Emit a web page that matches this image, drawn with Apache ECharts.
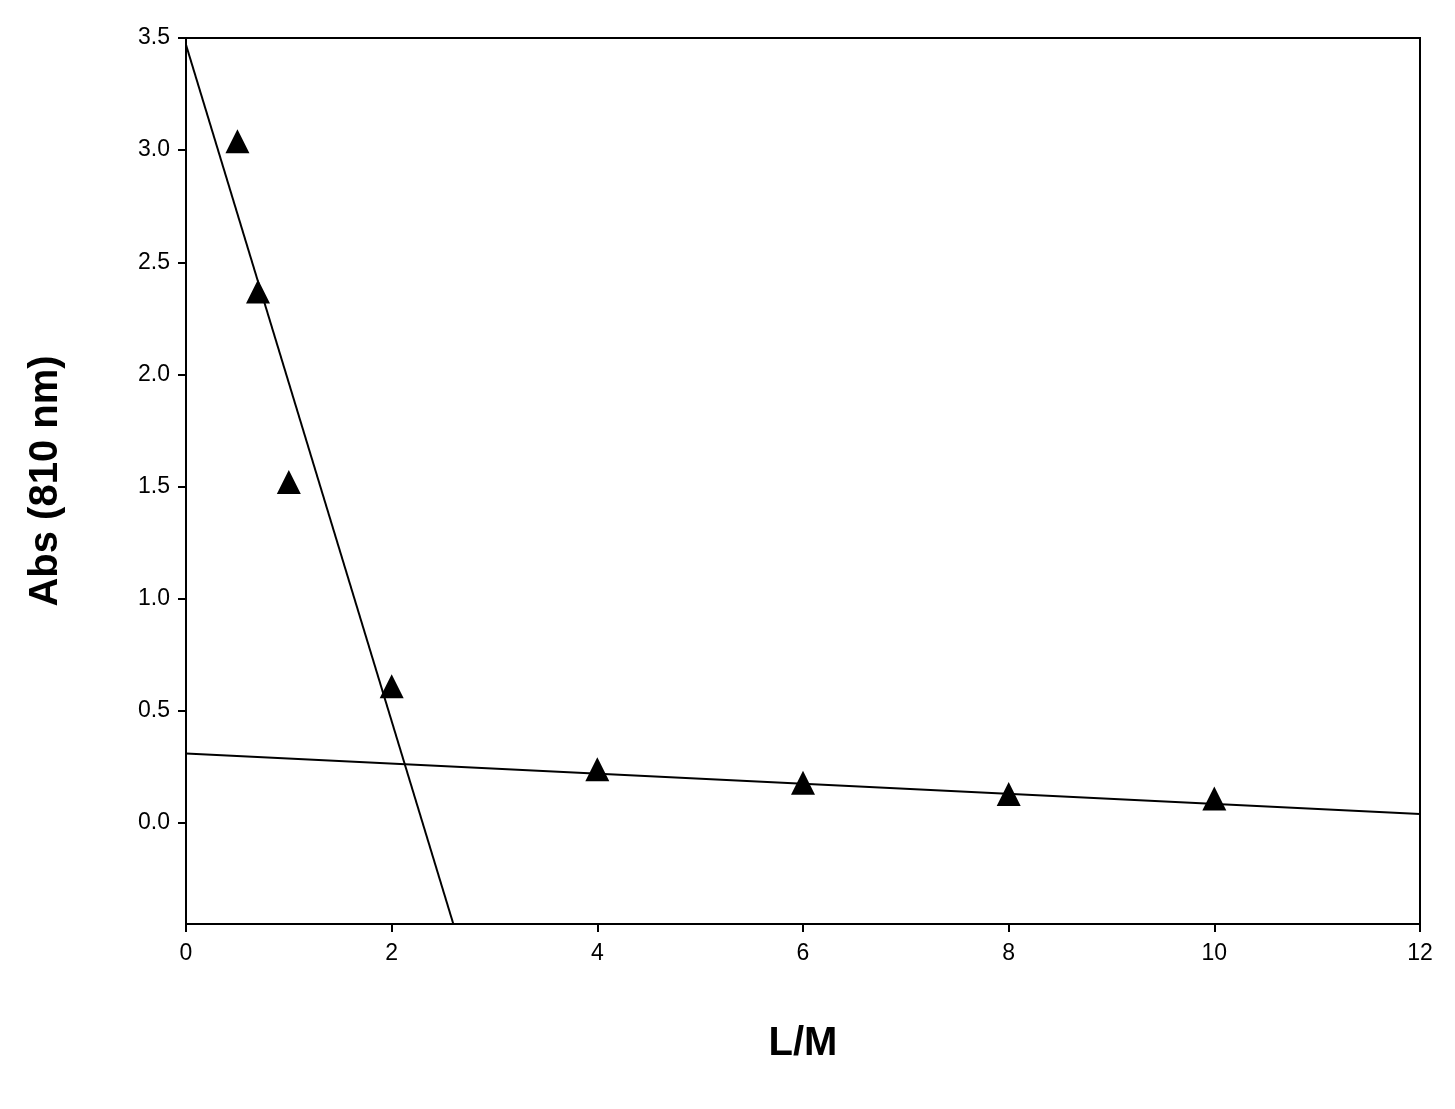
<!DOCTYPE html>
<html>
<head>
<meta charset="UTF-8">
<script src="https://cdn.jsdelivr.net/npm/echarts@6/dist/echarts.min.js"></script>
<style>
  html, body { margin: 0; background: #fff; }
  #chart { width: 1455px; height: 1109px; }
</style>
</head>
<body>
<div id="chart"></div>
<script>
// measured points
const ratioLM = [0.5, 0.7, 1.0, 2.0, 4, 6, 8, 10];
const absValues = [3.04, 2.37, 1.52, 0.61, 0.24, 0.18, 0.13, 0.11];
// fit lines (end points)
const steepLine = [[0, 3.47], [2.6, -0.45]];
const flatLine = [[0, 0.31], [12, 0.04]];
const yTicks = [0, 0.5, 1, 1.5, 2, 2.5, 3, 3.5];

const chart = echarts.init(document.getElementById('chart'));
const font = 'Liberation Sans, Arial, sans-serif';
chart.setOption({
  animation: false,
  grid: { left: 186, right: 35, top: 38, bottom: 185, show: true, borderColor: '#000', borderWidth: 2 },
  xAxis: {
    type: 'value', min: 0, max: 12, interval: 2,
    name: 'L/M', nameLocation: 'middle', nameGap: 100,
    nameTextStyle: { fontFamily: font, fontSize: 40, fontWeight: 'bold', color: '#000' },
    axisLine: { onZero: false, lineStyle: { color: '#000', width: 2 } },
    axisTick: { length: 8, lineStyle: { color: '#000', width: 2 } },
    axisLabel: { fontFamily: font, fontSize: 23, color: '#000', margin: 18 },
    splitLine: { show: false }
  },
  yAxis: {
    type: 'value', min: -0.45, max: 3.5,
    name: 'Abs (810 nm)', nameLocation: 'middle', nameGap: 120,
    nameTextStyle: { fontFamily: font, fontSize: 40, fontWeight: 'bold', color: '#000' },
    axisLine: { lineStyle: { color: '#000', width: 2 } },
    axisTick: { customValues: yTicks, length: 8, lineStyle: { color: '#000', width: 2 } },
    axisLabel: { customValues: yTicks, fontFamily: font, fontSize: 23, color: '#000', margin: 16,
      formatter: v => v.toFixed(1) },
    splitLine: { show: false }
  },
  series: [
    { type: 'line', data: steepLine, symbol: 'none', lineStyle: { color: '#000', width: 2 } },
    { type: 'line', data: flatLine, symbol: 'none', lineStyle: { color: '#000', width: 2 } },
    { type: 'scatter', data: ratioLM.map((x, i) => [x, absValues[i]]),
      symbol: 'triangle', symbolSize: 24, itemStyle: { color: '#000', opacity: 1 } }
  ]
});
</script>
</body>
</html>
